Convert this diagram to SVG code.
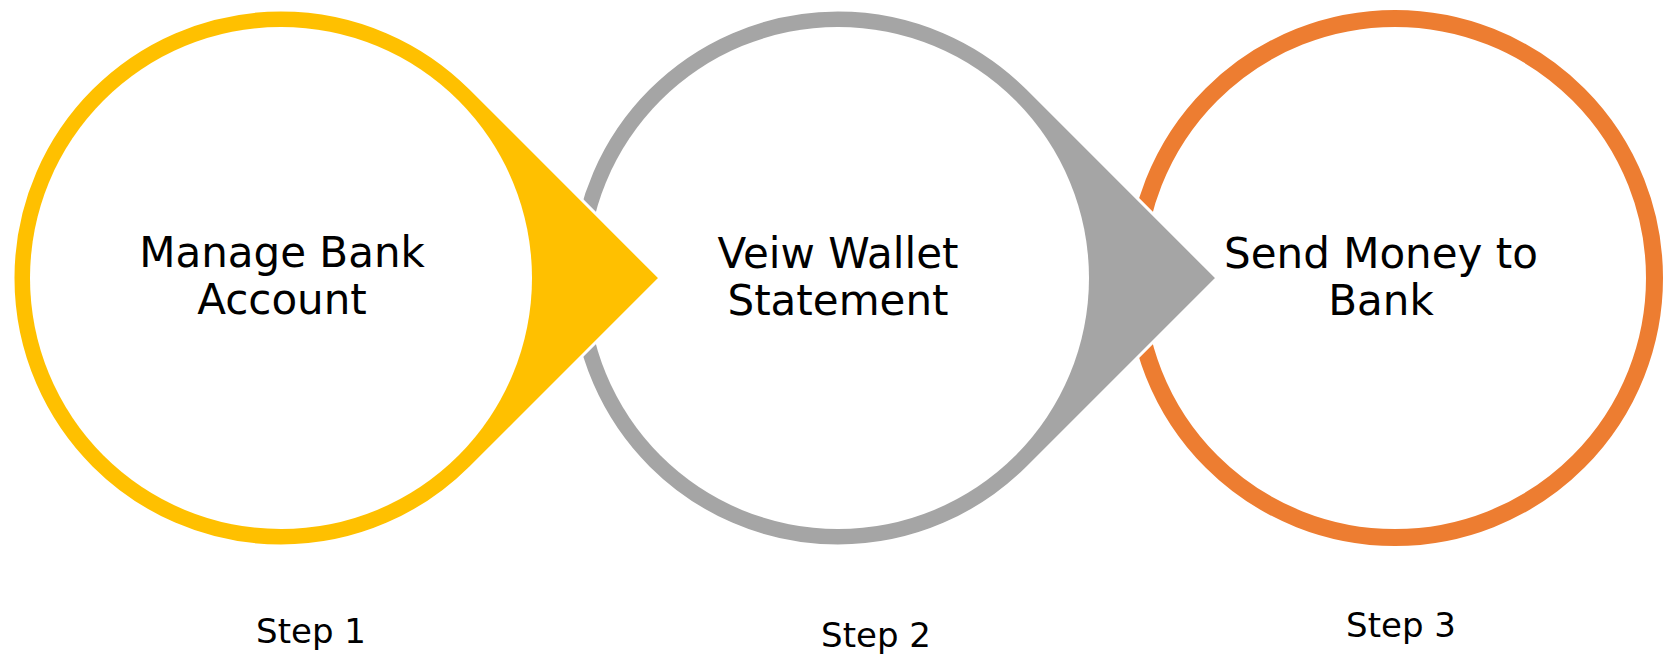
<svg xmlns="http://www.w3.org/2000/svg" width="1664" height="654" viewBox="0 0 1664 654">
<style>
.lbl{font-family:"DejaVu Sans","Liberation Sans",sans-serif;font-size:42px;fill:#000;text-anchor:middle}
.step{font-family:"DejaVu Sans","Liberation Sans",sans-serif;font-size:34px;fill:#000;text-anchor:middle}
.inner{fill:#fff}
</style>
<rect width="1664" height="654" fill="#fff"/>
<g id="step3">
<circle cx="1395" cy="278" r="259.5" fill="#fff" stroke="#ED7D31" stroke-width="17"/>
<text class="lbl" x="1381" y="268">Send Money to</text>
<text class="lbl" x="1381" y="315">Bank</text>
<text class="step" x="1401" y="637">Step 3</text>
</g>
<g id="step2">
<path d="M1027.5,88.5 A268,268 0 1 0 1027.5,467.5 L1217,278 Z" fill="#A5A5A5" stroke="#fff" stroke-width="3"/>
<circle class="inner" cx="838" cy="278" r="251"/>
<text class="lbl" x="838" y="268">Veiw Wallet</text>
<text class="lbl" x="838" y="315">Statement</text>
<text class="step" x="876" y="647">Step 2</text>
</g>
<g id="step1">
<path d="M470.5,88.5 A268,268 0 1 0 470.5,467.5 L660,278 Z" fill="#FFC000" stroke="#fff" stroke-width="3"/>
<circle class="inner" cx="281" cy="278" r="251"/>
<text class="lbl" x="282" y="267">Manage Bank</text>
<text class="lbl" x="282" y="314">Account</text>
<text class="step" x="311" y="643">Step 1</text>
</g>
<g id="connectors"/>
</svg>
